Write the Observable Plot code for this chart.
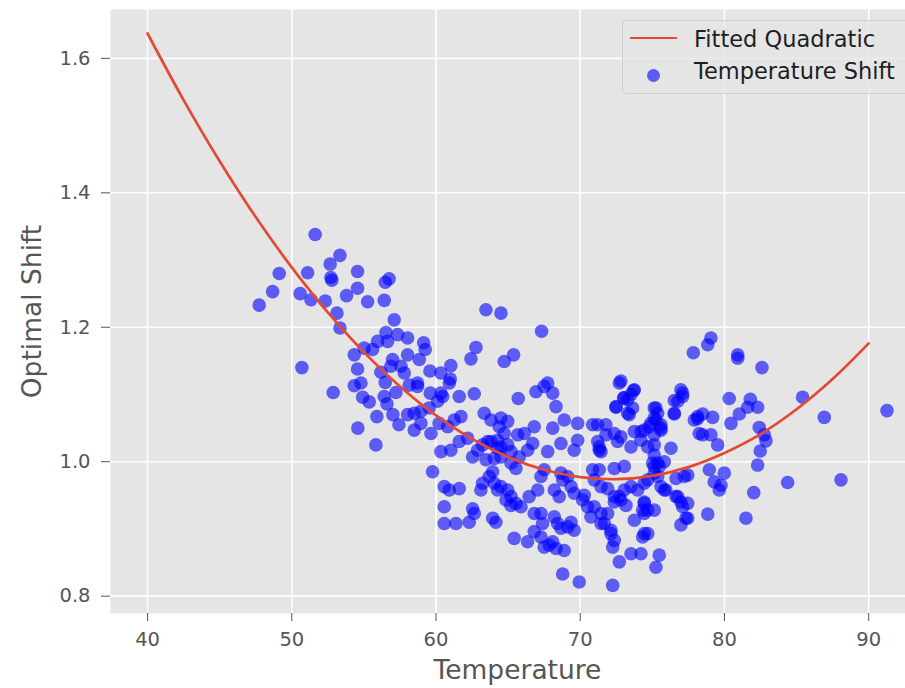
<!DOCTYPE html>
<html>
<head>
<meta charset="utf-8">
<script src="https://cdn.jsdelivr.net/npm/d3@7"></script>
<script src="https://cdn.jsdelivr.net/npm/@observablehq/plot@0.6"></script>
<style>
  html, body { margin: 0; padding: 0; background: #fff; overflow: hidden; }
  #wrap { position: relative; width: 924px; height: 688px; font-family: "DejaVu Sans", sans-serif; }
  #legend { position: absolute; left: 622px; top: 20px; width: 294px; height: 74px; box-sizing: border-box;
            border: 1px solid #cfcfcf; border-radius: 4px; background: rgba(229,229,229,0.8); }
  #legend .sw-line { position: absolute; left: 7px; top: 15.5px; width: 47px; height: 2.7px; background: #E24A33; }
  #legend .sw-dot { position: absolute; left: 24px; top: 47.5px; width: 13px; height: 13px; border-radius: 50%; background: rgba(0,0,255,0.6); }
  #legend .lab { position: absolute; left: 71px; font-size: 22.5px; line-height: 22.5px; color: #1e1e1e; white-space: nowrap; }
</style>
</head>
<body>
<div id="wrap"></div>
<script>
// Scatter: Temperature Shift
const temperature = [
51.62,47.74,48.67,49.13,51.10,50.58,51.33,52.32,52.66,53.34,52.71,52.78,53.13,53.34,53.80,54.56,54.56,55.26,56.41,56.48,56.75,57.10,50.70,52.87,54.33,54.56,55.02,55.60,55.95,56.53,56.64,57.34,58.03,59.14,59.25,58.84,58.03,56.99,56.87,57.57,57.80,56.18,54.33,54.79,54.91,55.37,56.41,56.48,58.72,59.58,60.34,61.03,60.99,59.60,60.34,61.61,62.65,63.46,64.50,62.77,62.42,64.73,65.38,67.32,65.70,66.93,67.74,68.09,68.32,
55.83,54.58,56.60,57.01,57.43,57.22,55.90,
58.14,58.72,60.92,
67.50,68.89,69.82,71.21,71.78,72.71,72.48,73.05,73.52,73.75,73.29,75.13,75.37,76.52,76.76,77.10,77.91,
58.49,58.95,59.53,60.11,60.46,58.95,59.65,58.49,58.03,60.22,60.81,61.26,61.73,60.34,61.03,61.61,62.19,
59.76,60.57,60.92,61.61,60.57,60.57,61.38,62.30,62.54,62.65,63.11,63.23,63.69,63.93,64.04,64.27,
62.54,62.89,63.23,63.58,63.46,64.04,64.27,63.34,63.81,64.50,64.97,64.38,64.73,64.27,63.81,64.50,64.97,65.20,64.50,65.66,66.12,66.70,66.35,66.81,65.77,65.54,65.20,
63.93,64.15,64.50,64.97,65.20,65.54,65.89,65.20,64.85,65.42,66.35,66.81,67.28,67.50,67.85,68.09,68.32,68.89,
66.46,67.05,66.81,67.28,67.39,68.20,68.43,68.66,69.13,69.58,69.36,67.28,67.50,68.20,68.54,68.78,68.66,69.13,69.36,69.58,70.17,70.28,70.51,70.97,70.74,71.44,71.44,
67.74,68.09,68.66,69.58,69.82,70.86,71.21,71.32,71.78,72.36,72.59,72.82,73.05,72.36,70.86,71.32,70.97,71.44,71.90,72.36,72.82,73.05,73.52,73.98,74.44,74.68,75.37,75.60,75.83,
71.90,71.67,72.13,72.36,72.25,72.71,73.52,74.21,74.44,74.33,74.68,74.44,75.13,75.48,75.25,73.75,68.78,69.93,72.25,
74.68,75.13,75.13,75.37,75.83,75.13,74.21,73.75,73.52,74.44,74.90,75.25,76.29,75.60,75.60,77.21,77.45,77.10,76.76,77.45,76.98,78.14,78.25,71.44,71.32,
79.06,78.84,77.84,80.92,80.92,82.60,72.82,73.70,73.01,72.48,73.40,73.63,73.29,76.98,77.10,76.52,76.52,75.25,75.13,75.60,74.79,74.21,75.13,
78.14,78.49,79.18,78.49,79.06,79.53,80.33,80.45,81.03,81.61,81.79,82.30,82.41,82.76,82.88,82.48,82.30,85.42,86.92,91.27,78.95,79.99,79.29,79.76,79.64,77.45,76.64,75.48,75.02,75.13,75.94,76.64,76.98,77.33,74.44,74.33,74.68,74.44,73.17,72.71,72.36,72.13,78.84,81.49,82.03,84.38,88.08
];
const shift = [
1.338,1.233,1.253,1.280,1.281,1.250,1.241,1.239,1.294,1.307,1.274,1.270,1.221,1.199,1.247,1.283,1.258,1.238,1.240,1.267,1.272,1.211,1.140,1.103,1.159,1.138,1.169,1.167,1.179,1.192,1.179,1.189,1.184,1.177,1.167,1.152,1.159,1.152,1.142,1.142,1.132,1.133,1.113,1.117,1.096,1.089,1.097,1.118,1.117,1.135,1.132,1.143,1.123,1.102,1.102,1.097,1.101,1.226,1.221,1.170,1.153,1.149,1.159,1.194,1.094,1.104,1.117,1.102,1.082,
1.025,1.050,1.086,1.070,1.055,1.103,1.067,
1.114,1.112,1.117,
1.112,1.062,1.057,1.055,1.055,1.117,1.082,1.095,1.100,1.107,1.072,1.080,1.072,1.072,1.090,1.102,1.062,
1.072,1.075,1.080,1.090,1.097,1.057,1.042,1.047,1.070,1.057,1.052,1.062,1.067,1.015,1.017,1.030,1.035,
0.985,0.963,0.958,0.960,0.933,0.908,0.908,0.910,0.930,0.923,0.958,0.968,0.978,0.985,0.968,0.958,
1.007,1.017,1.025,1.030,1.003,1.005,1.020,1.072,1.062,1.065,1.060,1.052,1.042,1.032,1.030,1.022,1.025,1.015,1.007,1.040,1.042,1.027,1.017,1.052,1.007,0.990,0.998,
0.916,0.910,0.963,0.958,0.948,0.938,0.933,0.935,0.943,0.886,0.881,0.896,0.888,0.873,0.876,0.881,0.871,0.868,
0.948,0.958,0.923,0.923,0.908,0.918,0.908,0.901,0.903,0.898,0.910,0.978,0.988,0.958,0.948,0.973,0.983,0.978,0.963,0.953,0.943,0.950,0.933,0.933,0.918,0.908,0.923,
1.015,1.050,1.027,1.017,1.032,1.055,1.030,1.017,1.040,1.042,1.030,1.037,0.993,0.990,0.988,0.988,0.973,0.963,0.960,0.948,0.943,0.958,0.963,0.958,0.968,0.973,0.978,0.963,0.958,
0.923,0.908,0.893,0.883,0.873,0.851,0.863,0.863,0.893,0.888,0.928,0.938,0.928,0.861,0.843,0.913,0.833,0.821,0.816,
1.022,1.025,1.010,0.998,1.000,0.993,1.032,1.045,1.022,1.047,1.057,1.062,1.020,1.047,1.055,0.978,0.938,0.933,0.948,0.916,0.906,1.067,1.042,1.015,1.022,
1.184,1.174,1.162,1.159,1.154,1.140,1.120,1.106,1.095,1.081,1.070,1.080,1.092,1.107,1.097,1.091,1.071,1.080,1.065,1.050,1.052,1.045,1.040,
1.064,1.071,1.066,1.040,1.040,1.025,1.094,1.057,1.071,1.081,1.093,1.081,1.051,1.040,1.031,1.016,0.995,1.096,1.066,1.076,0.988,0.983,0.970,0.965,0.958,0.980,0.975,0.993,0.998,0.983,0.958,0.948,0.940,0.916,0.940,0.928,0.893,0.923,0.935,0.948,0.940,0.898,0.922,0.916,0.954,0.969,0.973
];

// Fitted Quadratic
const fitTemp  = [40, 42.5, 45, 47.5, 50, 52.5, 55, 57.5, 60, 62.5, 65, 67.5, 70, 72.5, 75, 77.5, 80, 82.5, 85, 87.5, 90];
const fitShift = [1.637, 1.538, 1.447, 1.364, 1.289, 1.222, 1.163, 1.112, 1.069, 1.034, 1.007, 0.988, 0.977, 0.974, 0.979, 0.992, 1.013, 1.041, 1.078, 1.123, 1.176];

const xTicks = [40, 50, 60, 70, 80, 90];
const yTicks = [0.8, 1.0, 1.2, 1.4, 1.6];
const yTickLabels = ["0.8", "1.0", "1.2", "1.4", "1.6"];

const n = Math.min(temperature.length, shift.length);
const points = d3.range(n).map(i => ({t: temperature[i], s: shift[i]}));
const fit = fitTemp.map((t, i) => ({t, s: fitShift[i]}));

const chart = Plot.plot({
  width: 924,
  height: 688,
  marginTop: 9,
  marginBottom: 75,
  marginLeft: 110,
  marginRight: 0,
  style: {fontFamily: "DejaVu Sans, sans-serif", background: "white", overflow: "visible"},
  x: {domain: [37.43, 93.87]},
  y: {domain: [0.7742, 1.6727]},
  marks: [
    Plot.frame({fill: "#E5E5E5", stroke: null}),
    Plot.gridX(xTicks, {stroke: "white", strokeOpacity: 1, strokeWidth: 1.6}),
    Plot.gridY(yTicks, {stroke: "white", strokeOpacity: 1, strokeWidth: 1.6}),
    Plot.axisX(xTicks, {label: null, tickSize: 8, tickPadding: 11, fontSize: 19.5, color: "#555555", tickFormat: d => String(d)}),
    Plot.axisY(yTicks, {label: null, tickSize: 9, tickPadding: 11, fontSize: 19.5, color: "#555555", tickFormat: (d, i) => yTickLabels[yTicks.indexOf(d)]}),
    Plot.dot(points, {x: "t", y: "s", r: 6.8, fill: "blue", fillOpacity: 0.6, stroke: null}),
    Plot.line(fit, {x: "t", y: "s", stroke: "#E24A33", strokeWidth: 2.7, curve: "catmull-rom"}),
    Plot.text(["Temperature"], {frameAnchor: "bottom", textAnchor: "middle", lineAnchor: "middle", dy: 57.5, fontSize: 26.5, fill: "#555555"}),
    Plot.text(["Optimal Shift"], {frameAnchor: "left", textAnchor: "middle", lineAnchor: "middle", rotate: -90, dx: -78, fontSize: 26.5, fill: "#555555"})
  ]
});

const wrap = document.getElementById("wrap");
wrap.appendChild(chart);
const legend = document.createElement("div");
legend.id = "legend";
legend.innerHTML = '<div class="sw-line"></div><div class="lab" style="top:6.5px">Fitted Quadratic</div>' +
                   '<div class="sw-dot"></div><div class="lab" style="top:39px">Temperature Shift</div>';
wrap.appendChild(legend);
</script>
</body>
</html>
